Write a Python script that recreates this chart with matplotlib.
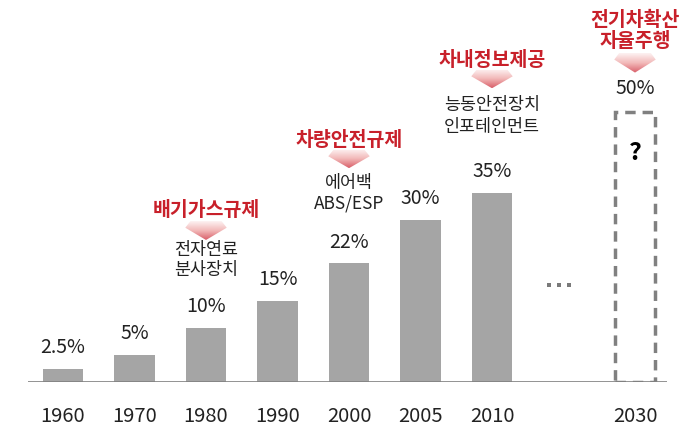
import numpy as np
import matplotlib.pyplot as plt
from matplotlib.patches import Polygon

plt.rcParams['font.family'] = ['Noto Sans CJK KR', 'DejaVu Sans']

# 데이터
years = ['1960', '1970', '1980', '1990', '2000', '2005', '2010']
shares = [2.5, 5, 10, 15, 22, 30, 35]
share_labels = ['2.5%', '5%', '10%', '15%', '22%', '30%', '35%']
future_year = '2030'
future_share = 50
future_label = '50%'

# 규제 / 기술 주석 (막대 위치, 제목, 설명)
events = [
    (2, '배기가스규제', '전자연료\n분사장치'),
    (4, '차량안전규제', '에어백\nABS/ESP'),
    (6, '차내정보제공', '능동안전장치\n인포테인먼트'),
    (8, '전기차확산\n자율주행', ''),
]

BAR_C = '#a5a5a5'
RED = '#c8202a'
TXT = '#222222'

fig = plt.figure(figsize=(7, 4.26), dpi=100)
ax = fig.add_axes([0, 44 / 426, 1, 382 / 426])
for s in ax.spines.values():
    s.set_visible(False)
ax.set_yticks([])

x = np.arange(len(years))
ax.bar(x, shares, width=0.57, color=BAR_C)
ax.bar(8, future_share, width=0.57, fill=False, edgecolor='#808080',
       linestyle=(0, (3, 2)), linewidth=2.5)
ax.hlines(0, -0.49, 8.45, color='#808080', lw=1.2)

ax.set_xticks(list(x) + [8])
ax.set_xticklabels(years + [future_year], fontsize=14.5, color=TXT)
ax.tick_params(axis='x', length=0, pad=17)

for xi, v, lab in zip(x, shares, share_labels):
    ax.text(xi, v + 3.9, lab, ha='center', va='center', fontsize=14, color=TXT)
ax.text(8, future_share + 4.4, future_label, ha='center', va='center',
        fontsize=14, color=TXT)
ax.text(8, 42.5, '?', ha='center', va='center', fontsize=18,
        fontweight='bold', color='black')
# 생략 표시 (…)
ax.plot([6.80, 6.94, 7.08], [18.0, 18.0, 18.0], 's', ms=3.2,
        color='#7a7a7a', mew=0)

# 분홍색 그라데이션 화살표
grad = np.linspace(0, 1, 64).reshape(-1, 1)
cmap = plt.matplotlib.colors.LinearSegmentedColormap.from_list(
    'pk', ['#fdf2f2', '#f2b8b8', '#d9606a'])


def pink_arrow(xc, ytop, ybot):
    hw = 0.29
    ymid = ytop - (ytop - ybot) * 0.35
    pts = [(xc - hw * 0.75, ytop), (xc + hw * 0.75, ytop), (xc + hw, ymid),
           (xc, ybot), (xc - hw, ymid)]
    poly = Polygon(pts, closed=True, facecolor='none', edgecolor='none')
    ax.add_patch(poly)
    im = ax.imshow(grad, cmap=cmap, aspect='auto',
                   extent=(xc - hw, xc + hw, ybot, ytop), origin='upper',
                   zorder=2)
    im.set_clip_path(poly)


ev_pos = {
    2: (31.7, 29.8, 26.3, 24.4, 20.7),
    4: (44.8, 43.0, 39.6, 36.9, 33.0),
    6: (59.6, 57.8, 54.4, 51.3, 47.2),
}
for xi, title, desc in events:
    if xi == 8:
        t1, t2 = title.split('\n')
        ax.text(xi, 67.0, t1, ha='center', va='center',
                fontsize=14, fontweight='bold', color=RED)
        ax.text(xi, 63.0, t2, ha='center', va='center',
                fontsize=14, fontweight='bold', color=RED)
        pink_arrow(xi, 61.0, 57.3)
        continue
    ty, at, ab, d1, d2 = ev_pos[xi]
    ax.text(xi, ty, title, ha='center', va='center', fontsize=14,
            fontweight='bold', color=RED)
    pink_arrow(xi, at, ab)
    l1, l2 = desc.split('\n')
    ax.text(xi, d1, l1, ha='center', va='center', fontsize=12.5, color=TXT)
    ax.text(xi, d2, l2, ha='center', va='center', fontsize=12.5, color=TXT)

ax.set_xlim(-63 / 71.5, 637 / 71.5)
ax.set_ylim(0, 382 / 5.4)
fig.savefig('out.png', dpi=100)
